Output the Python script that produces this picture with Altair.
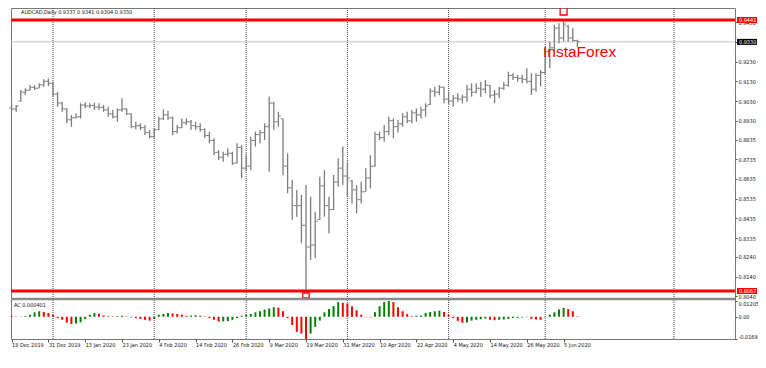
import json
import altair as alt
import pandas as pd

# ---------------- data ----------------
symbol = "AUDCAD"
timeframe = "Daily"

open_ = [0.8995, 0.8990, 0.9030, 0.9075, 0.9085, 0.9100, 0.9095, 0.9112, 0.9130, 0.9120,
         0.9065, 0.9020, 0.8990, 0.8935, 0.8945, 0.8950, 0.9010, 0.9005, 0.9008, 0.9000,
         0.8998, 0.8985, 0.8965, 0.8950, 0.8985, 0.8990, 0.8965, 0.8900, 0.8905, 0.8895,
         0.8870, 0.8850, 0.8885, 0.8940, 0.8960, 0.8945, 0.8875, 0.8895, 0.8920, 0.8925,
         0.8905, 0.8900, 0.8885, 0.8855, 0.8830, 0.8770, 0.8745, 0.8760, 0.8765, 0.8715,
         0.8795, 0.8690, 0.8700, 0.8830, 0.8860, 0.8870, 0.8900, 0.9020, 0.8925, 0.8940,
         0.8700, 0.8590, 0.8500, 0.8500, 0.8400, 0.8290, 0.8300, 0.8430, 0.8600, 0.8500,
         0.8480, 0.8620, 0.8690, 0.8650, 0.8625, 0.8580, 0.8530, 0.8570, 0.8640, 0.8700,
         0.8860, 0.8845, 0.8875, 0.8930, 0.8900, 0.8915, 0.8950, 0.8930, 0.8970, 0.8960,
         0.8985, 0.9012, 0.9080, 0.9075, 0.9100, 0.9040, 0.9030, 0.9045, 0.9040, 0.9050,
         0.9090, 0.9075, 0.9095, 0.9090, 0.9110, 0.9060, 0.9065, 0.9095, 0.9110, 0.9160,
         0.9150, 0.9145, 0.9140, 0.9130, 0.9090, 0.9160, 0.9175, 0.9280, 0.9300, 0.9400,
         0.9350, 0.9410, 0.9350, 0.9337]

high = [0.9019, 0.9010, 0.9086, 0.9095, 0.9111, 0.9111, 0.9120, 0.9140, 0.9145, 0.9128,
        0.9077, 0.9027, 0.8993, 0.8959, 0.8968, 0.9019, 0.9024, 0.9019, 0.9022, 0.9019,
        0.9010, 0.9001, 0.8985, 0.8993, 0.9044, 0.8993, 0.8968, 0.8925, 0.8917, 0.8909,
        0.8883, 0.8892, 0.8951, 0.8988, 0.8981, 0.8951, 0.8909, 0.8942, 0.8942, 0.8934,
        0.8925, 0.8917, 0.8892, 0.8875, 0.8841, 0.8782, 0.8773, 0.8790, 0.8773, 0.8816,
        0.8807, 0.8756, 0.8849, 0.8875, 0.8883, 0.8917, 0.9052, 0.9027, 0.8976, 0.8942,
        0.8765, 0.8630, 0.8579, 0.8554, 0.8604, 0.8545, 0.8469, 0.8646, 0.8680, 0.8545,
        0.8655, 0.8740, 0.8799, 0.8722, 0.8630, 0.8604, 0.8621, 0.8689, 0.8756, 0.8875,
        0.8875, 0.8909, 0.8951, 0.8942, 0.8935, 0.8968, 0.8976, 0.8985, 0.8993, 0.9001,
        0.9019, 0.9095, 0.9103, 0.9111, 0.9103, 0.9077, 0.9061, 0.9069, 0.9061, 0.9111,
        0.9120, 0.9120, 0.9128, 0.9137, 0.9111, 0.9086, 0.9103, 0.9128, 0.9179, 0.9171,
        0.9162, 0.9162, 0.9196, 0.9171, 0.9171, 0.9187, 0.9297, 0.9331, 0.9416, 0.9424,
        0.9441, 0.9416, 0.9399, 0.9341]

low = [0.8976, 0.8976, 0.9027, 0.9061, 0.9082, 0.9086, 0.9095, 0.9103, 0.9106, 0.9052,
       0.9001, 0.8976, 0.8917, 0.8900, 0.8942, 0.8942, 0.8993, 0.8993, 0.8985, 0.8985,
       0.8976, 0.8951, 0.8942, 0.8925, 0.8976, 0.8959, 0.8892, 0.8887, 0.8883, 0.8858,
       0.8841, 0.8841, 0.8883, 0.8934, 0.8934, 0.8858, 0.8866, 0.8892, 0.8909, 0.8883,
       0.8883, 0.8875, 0.8841, 0.8816, 0.8756, 0.8731, 0.8722, 0.8748, 0.8706, 0.8714,
       0.8638, 0.8680, 0.8680, 0.8799, 0.8816, 0.8832, 0.8672, 0.8883, 0.8900, 0.8655,
       0.8562, 0.8427, 0.8444, 0.8309, 0.8067, 0.8224, 0.8233, 0.8427, 0.8444, 0.8359,
       0.8478, 0.8596, 0.8604, 0.8545, 0.8511, 0.8461, 0.8511, 0.8570, 0.8587, 0.8697,
       0.8832, 0.8824, 0.8858, 0.8841, 0.8870, 0.8900, 0.8917, 0.8917, 0.8925, 0.8942,
       0.8951, 0.9010, 0.9052, 0.9061, 0.9019, 0.9010, 0.9001, 0.9027, 0.9019, 0.9027,
       0.9052, 0.9069, 0.9052, 0.9069, 0.9044, 0.9019, 0.9044, 0.9086, 0.9103, 0.9137,
       0.9128, 0.9120, 0.9120, 0.9061, 0.9077, 0.9103, 0.9162, 0.9196, 0.9280, 0.9323,
       0.9331, 0.9331, 0.9331, 0.9304]

close = [0.8990, 0.9005, 0.9075, 0.9085, 0.9100, 0.9095, 0.9112, 0.9130, 0.9120, 0.9065,
         0.9020, 0.8990, 0.8935, 0.8945, 0.8950, 0.9010, 0.9005, 0.9008, 0.9000, 0.8998,
         0.8985, 0.8965, 0.8950, 0.8985, 0.8990, 0.8965, 0.8900, 0.8905, 0.8895, 0.8870,
         0.8850, 0.8885, 0.8940, 0.8960, 0.8945, 0.8875, 0.8895, 0.8920, 0.8925, 0.8905,
         0.8900, 0.8885, 0.8855, 0.8830, 0.8770, 0.8745, 0.8760, 0.8765, 0.8715, 0.8795,
         0.8690, 0.8700, 0.8830, 0.8860, 0.8870, 0.8900, 0.9020, 0.8925, 0.8955, 0.8700,
         0.8590, 0.8500, 0.8500, 0.8400, 0.8290, 0.8300, 0.8420, 0.8600, 0.8500, 0.8480,
         0.8620, 0.8690, 0.8650, 0.8640, 0.8580, 0.8530, 0.8570, 0.8640, 0.8700, 0.8860,
         0.8845, 0.8875, 0.8930, 0.8900, 0.8915, 0.8950, 0.8930, 0.8970, 0.8960, 0.8985,
         0.9005, 0.9080, 0.9075, 0.9100, 0.9040, 0.9030, 0.9045, 0.9040, 0.9050, 0.9090,
         0.9075, 0.9095, 0.9090, 0.9110, 0.9060, 0.9065, 0.9095, 0.9110, 0.9160, 0.9150,
         0.9145, 0.9140, 0.9130, 0.9090, 0.9160, 0.9175, 0.9280, 0.9300, 0.9400, 0.9350,
         0.9420, 0.9350, 0.9337, 0.9330]

# Accelerator Oscillator
ac = [0.0005, 0.0003, 0.0002, 0.0006, 0.0015, 0.0034, 0.0042, 0.0037, 0.0029, 0.0016,
      -0.0010, -0.0023, -0.0044, -0.0055, -0.0052, -0.0042, -0.0018, 0.0016, 0.0029, 0.0023,
      0.0010, 0.0005, 0.0003, 0.0005, 0.0008, 0.0003, -0.0005, -0.0010, -0.0016, -0.0023,
      -0.0029, -0.0016, 0.0016, 0.0021, 0.0029, 0.0026, 0.0021, 0.0016, 0.0008, 0.0010,
      0.0012, 0.0008, 0.0003, -0.0010, -0.0023, -0.0037, -0.0035, -0.0033, -0.0023, -0.0010,
      0.0008, 0.0016, 0.0021, 0.0034, 0.0042, 0.0055, 0.0063, 0.0073, 0.0070, 0.0042,
      -0.0010, -0.0063, -0.0115, -0.0128, -0.01695, -0.0128, -0.0076, -0.0029, 0.0034, 0.0060,
      0.0081, 0.0112, 0.0107, 0.0102, 0.0081, 0.0050, 0.0016, -0.0003, -0.0005, 0.0034,
      0.0081, 0.0112, 0.012053, 0.0112, 0.0073, 0.0042, 0.0021, 0.0005, 0.0008, 0.0010,
      0.0029, 0.0037, 0.0042, 0.0047, 0.0037, 0.0016, -0.0010, -0.0031, -0.0046, -0.0043,
      -0.0029, -0.0023, -0.0018, -0.0013, -0.0023, -0.0026, -0.0023, -0.0021, -0.0016, -0.0010,
      -0.0008, -0.0005, -0.0003, -0.0016, -0.0021, -0.0023, -0.0003, 0.0016, 0.0034, 0.0055,
      0.0068, 0.0060, 0.0042, 0.000401]

# time axis (bar numbers of the labelled days)
label_bars = [0, 8, 16, 24, 32, 40, 48, 56, 64, 72, 80, 88, 96, 104, 112, 120]
date_labels = ["18 Dec 2019", "31 Dec 2019", "13 Jan 2020", "23 Jan 2020", "4 Feb 2020",
               "14 Feb 2020", "26 Feb 2020", "9 Mar 2020", "19 Mar 2020", "31 Mar 2020",
               "10 Apr 2020", "22 Apr 2020", "4 May 2020", "14 May 2020", "26 May 2020",
               "5 Jun 2020"]
# monthly period separators
month_start_bars = [9, 31, 51, 73, 95, 116, 144]
month_start_dates = ["2 Jan 2020", "3 Feb 2020", "2 Mar 2020", "1 Apr 2020",
                     "1 May 2020", "1 Jun 2020", "1 Jul 2020"]

price_ticks = [0.9430, 0.9330, 0.9230, 0.9130, 0.9030, 0.8930, 0.8835, 0.8735, 0.8635,
               0.8535, 0.8435, 0.8335, 0.8240, 0.8140, 0.8040]
ac_ticks = [0.012053, 0.0, -0.01695]
ac_tick_labels = ["0.012053", "0.00", "-0.01695"]

high_level = 0.9441
low_level = 0.8067
high_bar = 120
low_bar = 64
watermark = "InstaForex"

# ---------------- layout ----------------
W, H = 724, 331
FONT = "DejaVu Sans Condensed, DejaVu Sans, sans-serif"
BAR_STEP = 4.6
FIRST_BAR_PX = 0.6
PRICE_DOMAIN = [0.78236, 0.95018]
AC_DOMAIN = [-0.01695, 0.23573]
px_per_price = H / (PRICE_DOMAIN[1] - PRICE_DOMAIN[0])

n = len(close)
df = pd.DataFrame({"bar": list(range(n)), "open": open_, "high": high, "low": low,
                   "close": close, "ac": ac})
prev = [None] + ac[:-1]
df["ac_dir"] = ["up" if (p is not None and a > p) else "down" for a, p in zip(ac, prev)]

x_scale = alt.Scale(domain=[-FIRST_BAR_PX / BAR_STEP, (W - FIRST_BAR_PX) / BAR_STEP],
                    nice=False, zero=False)
price_scale = alt.Scale(domain=PRICE_DOMAIN, nice=False, zero=False)
ac_scale = alt.Scale(domain=AC_DOMAIN, nice=False, zero=False)

x_axis = alt.Axis(orient="bottom", values=label_bars,
                  labelExpr=f"{json.dumps(date_labels)}[indexof({json.dumps(label_bars)}, datum.value)]",
                  title=None, domain=False, grid=False, tickSize=3, tickColor="#555555",
                  labelPadding=0, labelAlign="left", labelBaseline="top", labelFlush=False,
                  labelOverlap=False, labelFont=FONT, labelFontSize=5.5, labelColor="#111111")
price_axis = alt.Axis(orient="right", values=price_ticks, format=".4f", title=None,
                      domain=False, grid=False, tickSize=2, tickColor="#555555",
                      labelPadding=1, labelFont=FONT, labelFontSize=5.5, labelColor="#111111",
                      labelOverlap=False, labelAlign="left", labelBaseline="middle")
ac_axis = alt.Axis(orient="right", values=ac_ticks,
                   labelExpr=f"{json.dumps(ac_tick_labels)}[indexof({json.dumps(ac_ticks)}, datum.value)]",
                   title=None, domain=False, grid=False, tickSize=2, tickColor="#555555",
                   labelPadding=1, labelFont=FONT, labelFontSize=5.5, labelColor="#111111",
                   labelOverlap=False, labelAlign="left",
                   labelBaseline={"condition": [{"test": "datum.value > 0.005", "value": "top"},
                                                {"test": "datum.value < -0.005", "value": "bottom"}],
                                  "value": "middle"})

X = alt.X("bar:Q", scale=x_scale, axis=x_axis)
one = pd.DataFrame({"k": [0]})

# separators
sep_df = pd.DataFrame({"bar": month_start_bars, "date": month_start_dates})
sep = alt.Chart(sep_df).mark_rule(color="#444444", strokeWidth=1, strokeDash=[1, 1]).encode(x=X)

# last price line
last_df = pd.DataFrame({"level": [close[-1]]})
pline = alt.Chart(last_df).mark_rule(color="#c4c4c4", strokeWidth=1).encode(
    y=alt.Y("level:Q", scale=price_scale, axis=price_axis))

bars = alt.Chart(df).mark_rule(color="#7c7c7c", strokeWidth=1.3).encode(
    x=X, y=alt.Y("low:Q", scale=price_scale, axis=price_axis), y2="high:Q")
open_t = alt.Chart(df).mark_tick(orient="horizontal", size=2, thickness=1, xOffset=-1.5,
                                 color="#5a5a5a").encode(
    x=X, y=alt.Y("open:Q", scale=price_scale, axis=price_axis))
close_t = alt.Chart(df).mark_tick(orient="horizontal", size=2, thickness=1, xOffset=1.5,
                                  color="#5a5a5a").encode(
    x=X, y=alt.Y("close:Q", scale=price_scale, axis=price_axis))

lvl_df = pd.DataFrame({"level": [high_level, low_level]})
red_lines = alt.Chart(lvl_df).mark_rule(color="#ff0000", strokeWidth=3).encode(
    y=alt.Y("level:Q", scale=price_scale, axis=price_axis))

wm = alt.Chart(one).mark_text(text=watermark, font="Liberation Sans, Arial, sans-serif",
                              fontSize=15.5, color="#ff0000", align="left",
                              baseline="alphabetic").encode(x=alt.value(532), y=alt.value(49))

mk_df = pd.DataFrame({
    "x0": [high_bar - 0.75, low_bar - 0.7],
    "x1": [high_bar + 0.75, low_bar + 0.7],
    "y0": [high_level + 5 / px_per_price, low_level - 2 / px_per_price],
    "y1": [high_level + 16 / px_per_price, low_level - 7 / px_per_price],
})
markers = alt.Chart(mk_df).mark_rect(stroke="#ff0000", strokeWidth=1.3, fillOpacity=0,
                                     fill="#ffffff").encode(
    x=alt.X("x0:Q", scale=x_scale, axis=x_axis), x2="x1:Q",
    y=alt.Y("y0:Q", scale=price_scale, axis=price_axis), y2="y1:Q")

box_df = pd.DataFrame({"level": [high_level, close[-1], low_level],
                       "kind": ["line", "last", "line"]})
boxes = alt.Chart(box_df).mark_rule(strokeWidth=6).encode(
    x=alt.value(726), x2=alt.value(746),
    y=alt.Y("level:Q", scale=price_scale, axis=price_axis),
    color=alt.Color("kind:N", scale=alt.Scale(domain=["line", "last"],
                                              range=["#ff0000", "#000000"]), legend=None))
box_text = alt.Chart(box_df).mark_text(color="#ffffff", align="left", baseline="middle",
                                       font=FONT, fontSize=5.5).encode(
    x=alt.value(728), y=alt.Y("level:Q", scale=price_scale, axis=price_axis),
    text=alt.Text("level:Q", format=".4f"))

header = alt.Chart(one).mark_text(
    text=f"{symbol},{timeframe}  {open_[-1]:.4f} {high[-1]:.4f} {low[-1]:.4f} {close[-1]:.4f}",
    font=FONT, fontSize=5.5, color="#111111", align="left", baseline="middle").encode(
    x=alt.value(10), y=alt.value(4))

band = alt.Chart(one).mark_rule(color="#8a8a8a", strokeWidth=2.5).encode(
    x=alt.value(0), x2=alt.value(W), y=alt.value(291))

price_group = alt.layer(sep, pline, bars, open_t, close_t, red_lines, wm, markers,
                        boxes, box_text, header)

ac_bars = alt.Chart(df).mark_rule(strokeWidth=2).encode(
    x=X, y=alt.Y("ac:Q", scale=ac_scale, axis=ac_axis), y2=alt.datum(0),
    color=alt.Color("ac_dir:N", scale=alt.Scale(domain=["up", "down"],
                                                range=["#008000", "#ff0000"]), legend=None))
ac_header = alt.Chart(one).mark_text(text=f"AC {ac[-1]:.6f}", font=FONT, fontSize=5.5,
                                     color="#111111", align="left", baseline="middle").encode(
    x=alt.value(3), y=alt.value(297))
ac_group = alt.layer(band, ac_bars, ac_header)

chart = alt.layer(price_group, ac_group).resolve_scale(
    y="independent", color="independent").properties(
    width=W, height=H,
    padding={"left": 3, "top": 0, "right": 23, "bottom": 21},
    autosize=alt.AutoSizeParams(type="none"),
    background="#ffffff",
).configure_view(stroke="#777777", strokeWidth=1)

chart.save("out.html", embed_options={"renderer": "svg", "actions": False})
